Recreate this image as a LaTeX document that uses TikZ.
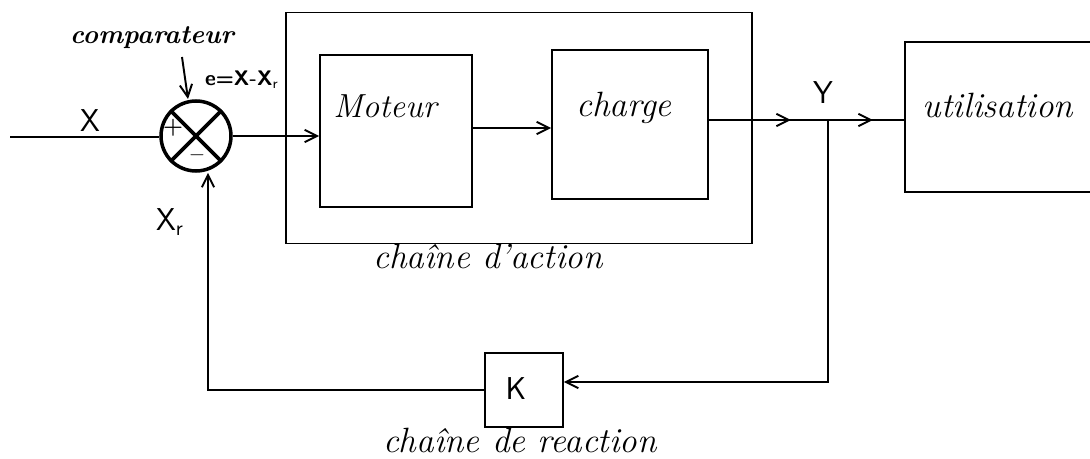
\documentclass[tikz,border=0pt]{standalone}
\usetikzlibrary{arrows.meta,decorations.markings,calc}
\def\pxu{0.02cm}
\begin{document}
\begin{tikzpicture}[x=0.02cm,y=-0.02cm,
  line width=0.9pt,
  >={Straight Barb[length=7pt,width=7pt,line width=1.1pt]},
  blk/.style={draw,rectangle,inner sep=0pt,line width=1pt},
  hand/.style={font=\fontsize{20}{22}\selectfont\itshape},
  sym/.style={font=\fontsize{18}{20}\selectfont\sffamily},
  twoarr/.style={decoration={markings,mark=at position 0.42 with {\arrow{>}},mark=at position 0.84 with {\arrow{>}}},postaction={decorate}},
]
\useasboundingbox (0,0) rectangle (1090,459);

% comparator
\node[circle,draw,line width=2pt,minimum size=70*\pxu,inner sep=0pt] (cmp) at (196,136) {};
\draw[line width=2.2pt] (cmp.45) -- (cmp.225);
\draw[line width=2.2pt] (cmp.135) -- (cmp.315);
\node[font=\fontsize{13}{14}\selectfont\bfseries] (plus) at (173,128) {+};
\node[font=\fontsize{13}{14}\selectfont\bfseries] (minus) at (197,155) {$-$};

% input
\coordinate (in) at (10,137);
\draw[line width=1.3pt] (in) -- (cmp.west |- in);
\node[sym] (lx) at (90,121) {X};

% comparateur label
\node[font=\fontsize{15}{18}\selectfont\itshape\bfseries] (lcomp) at (152,38) {comparateur};
\coordinate (ctip) at (188,99);
\draw[->,line width=1.1pt] (182,57) -- (ctip);
\node[font=\fontsize{12}{14}\selectfont\sffamily\bfseries] (le) at (242,80) {e=X-X$_{\mathsf r}$};

% chaine d'action
\node[blk,minimum width=466*\pxu,minimum height=231*\pxu] (action) at (519,128) {};
\node[hand] (laction) at (488,256) {chaîne d'action};

\node[blk,minimum width=152*\pxu,minimum height=152*\pxu] (moteur) at (396,131) {};
\node[hand,font=\fontsize{19}{22}\selectfont\itshape] (lmoteur) at (385,106) {Moteur};

\node[blk,minimum width=156*\pxu,minimum height=149*\pxu] (charge) at (630,124.5) {};
\node[hand] (lcharge) at (624,108) {charge};

\node[blk,minimum width=200*\pxu,minimum height=150*\pxu] (util) at (1005,117) {};
\node[hand] (lutil) at (998,105) {utilisation};

% forward path
\draw[->] (cmp.east) -- (cmp.east -| moteur.west);
\draw[->] (moteur.east |- 0,128) -- (charge.west |- 0,128);
\coordinate (br) at (828,120);
\draw[twoarr] (charge.east |- br) -- (util.west |- br);
\node[sym] (ly) at (823,93) {Y};

% feedback
\node[blk,minimum width=78*\pxu,minimum height=74*\pxu] (k) at (524,390) {};
\node[sym] (lk) at (516,389) {K};
\coordinate (fb1) at (828,382);
\draw[->] (br) -- (fb1) -- (k.east |- fb1);
\coordinate (fb2) at (208,390);
\draw[->] (k.west |- fb2) -- (fb2) -- (cmp.south -| fb2);
\node[sym] (lxr) at (170,222) {X$_{\mathsf r}$};
\node[hand] (lreac) at (520,440) {chaîne de reaction};
\end{tikzpicture}
\end{document}
